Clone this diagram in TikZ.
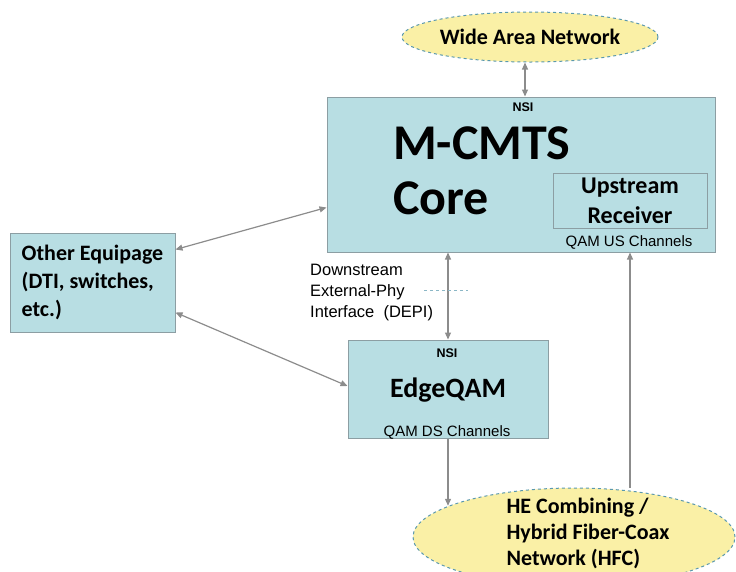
\documentclass[tikz,border=0pt]{standalone}
\usepackage{fontspec}
\setmainfont{Carlito}
\newfontfamily\arialfont{Liberation Sans}
\usetikzlibrary{arrows.meta,positioning,shapes.geometric}
\definecolor{boxfill}{HTML}{B8DEE3}
\definecolor{boxline}{HTML}{8C9EA3}
\definecolor{cloudfill}{HTML}{FAF0A6}
\definecolor{cloudline}{HTML}{5A98AE}
\definecolor{linkgray}{HTML}{8C8C8C}
\begin{document}
\begin{tikzpicture}[x=1pt,y=-1pt,
  link/.style={{Triangle[length=7pt,width=6pt]}-{Triangle[length=7pt,width=6pt]},draw=linkgray,line width=1.2pt},
  oneway/.style={-{Triangle[length=7pt,width=6pt]},draw=linkgray,line width=1.2pt},
  unit/.style={draw=boxline,fill=boxfill,line width=1pt,inner sep=0pt},
  cloud/.style={ellipse,draw=cloudline,dashed,fill=cloudfill,line width=1pt,inner sep=0pt,align=left},
  tag/.style={font=\arialfont\bfseries\fontsize{12.5}{14}\selectfont,inner sep=0pt},
  chan/.style={font=\arialfont\fontsize{15}{17}\selectfont,inner sep=0pt}]
\useasboundingbox (0,0) rectangle (736,571);
\clip (0,0) rectangle (736,571);
% boxes
\node[unit,minimum width=388pt,minimum height=155pt] (core) at (521,174.5) {};
\node[unit,minimum width=154pt,minimum height=55pt,align=center,
  font=\bfseries\fontsize{24}{30}\selectfont] (ur) at (630,200.5) {Upstream\\Receiver};
\node[unit,minimum width=165pt,minimum height=99pt,align=left,
  font=\bfseries\fontsize{22}{28}\selectfont] (other) at (92.5,282.5) {Other Equipage\\(DTI, switches,\\etc.)};
\node[unit,minimum width=200pt,minimum height=98pt] (eqam) at (448,389) {};
% labels
\node[tag] (cnsi) at (523,107) {NSI};
\node[anchor=west,align=left,inner sep=0pt,font=\bfseries\fontsize{50}{55}\selectfont] (ctitle) at (393,171) {M-CMTS\\Core};
\node[chan] (us) at (629,242) {QAM US Channels};
\node[tag] (ensi) at (447,353) {NSI};
\node[inner sep=0pt,font=\bfseries\fontsize{28}{32}\selectfont] (etitle) at (448,390) {EdgeQAM};
\node[chan] (ds) at (447,432) {QAM DS Channels};
\node[anchor=west,align=left,inner sep=0pt,font=\arialfont\fontsize{16.5}{21}\selectfont] (depi) at (310,293) {Downstream\\External-Phy\\Interface\ \ (DEPI)};
% connectors
\draw[link] (eqam.north) -- (eqam.north |- core.south);
\draw[cloudline!70,dashed,line width=.8pt] (424,290) -- (468,290);
\draw[link] ([yshift=45pt]core.south west) -- ([yshift=-17pt]other.north east);
\draw[link] ([yshift=20pt]other.south east) -- ([yshift=3pt]eqam.west);
\node[cloud,minimum width=322pt,minimum height=98pt,font=\bfseries\fontsize{22}{26}\selectfont] (hfc) at (574,537) {};
\node[align=left,inner sep=0pt,font=\bfseries\fontsize{22}{26}\selectfont] (hfctext) at (588,533) {HE Combining /\\Hybrid Fiber-Coax\\Network (HFC)};
\draw[oneway] (ur.south |- hfc.north) -- (ur.south |- core.south);
\draw[oneway] (eqam.south) -- (eqam.south |- hfc.166);
\node[cloud,minimum width=256pt,minimum height=50pt,font=\bfseries\fontsize{22}{26}\selectfont] (wan) at (530,37) {Wide Area Network};
\draw[link] ([xshift=-5pt]wan.south) -- ([xshift=-5pt]wan.south |- core.north);
\end{tikzpicture}
\end{document}
